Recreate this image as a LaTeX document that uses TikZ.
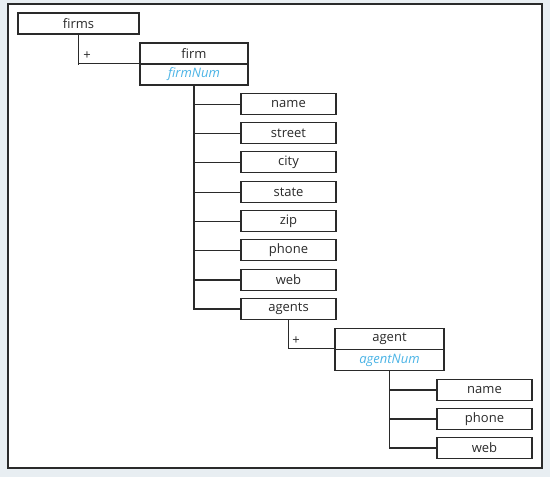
\documentclass[tikz,border=0pt]{standalone}
\usepackage{fontspec}
\setmainfont{Open Sans}
\definecolor{pagebg}{HTML}{E8EEF2}
\definecolor{inkgray}{HTML}{2A2A2A}
\definecolor{keyblue}{HTML}{4BB4E6}
\tikzset{
  box/.style={draw=inkgray,line width=1.3pt,fill=white,minimum height=21pt,inner sep=0pt,text=inkgray},
  leaf/.style={box,minimum width=95pt},
  keybox/.style={box,minimum width=108pt,text=keyblue,font=\fontsize{13}{15}\selectfont\itshape},
  link/.style={draw=inkgray,line width=1.6pt},
  twig/.style={draw=inkgray,line width=0.8pt},
}
\begin{document}
\begin{tikzpicture}[x=1pt,y=-1pt,font=\fontsize{13}{15}\selectfont]
 \fill[pagebg] (0,0) rectangle (550,477);
 \draw[fill=white,draw=inkgray,line width=1.5pt] (8,4) rectangle (542,468);
 % top level
 \node[box,minimum width=121pt] (firms) at (78.5,23.5) {firms};
 \node[box,minimum width=108pt] (firm) at (194,53.5) {firm};
 \node[keybox] (firmnum) at (194,74.5) {firmNum};
 \draw[twig] (firms.south) |- (firmnum.north west);
 \draw[link] (firms.south) -- ++(0,30);
 \node[text=inkgray] (plusf) at (87,56) {+};
 % firm children
 \node[leaf] (name) at (288.5,104) {name};
 \node[leaf] (street) at (288.5,133) {street};
 \node[leaf] (city) at (288.5,162) {city};
 \node[leaf] (state) at (288.5,192) {state};
 \node[leaf] (zip) at (288.5,221) {zip};
 \node[leaf] (phone) at (288.5,250) {phone};
 \node[leaf] (web) at (288.5,280) {web};
 \node[leaf] (agents) at (288.5,309) {agents};
 \draw[link] (firmnum.south) |- (agents.west);
 \foreach \c in {name,street,city,state,zip,phone}
   \draw[twig] (firmnum.south |- \c.west) -- (\c.west);
 \draw[link] (firmnum.south |- web.west) -- (web.west);
 \draw[twig] (firmnum.south |- agents.west) -- (agents.west);
 % agent
 \node[box,minimum width=109pt] (agent) at (389.5,339) {agent};
 \node[keybox,minimum width=109pt] (agentnum) at (389.5,360) {agentNum};
 \draw[twig] (agents.south) |- (agentnum.north west);
 \node[text=inkgray] (plusa) at (296,341) {+};
 % agent children
 \node[leaf] (aname) at (484.5,390) {name};
 \node[leaf] (aphone) at (484.5,419) {phone};
 \node[leaf] (aweb) at (484.5,448) {web};
 \draw[link] (agentnum.south) |- (aweb.west);
 \foreach \c in {aname,aphone}
   \draw[link] (agentnum.south |- \c.west) -- (\c.west);
\end{tikzpicture}
\end{document}
